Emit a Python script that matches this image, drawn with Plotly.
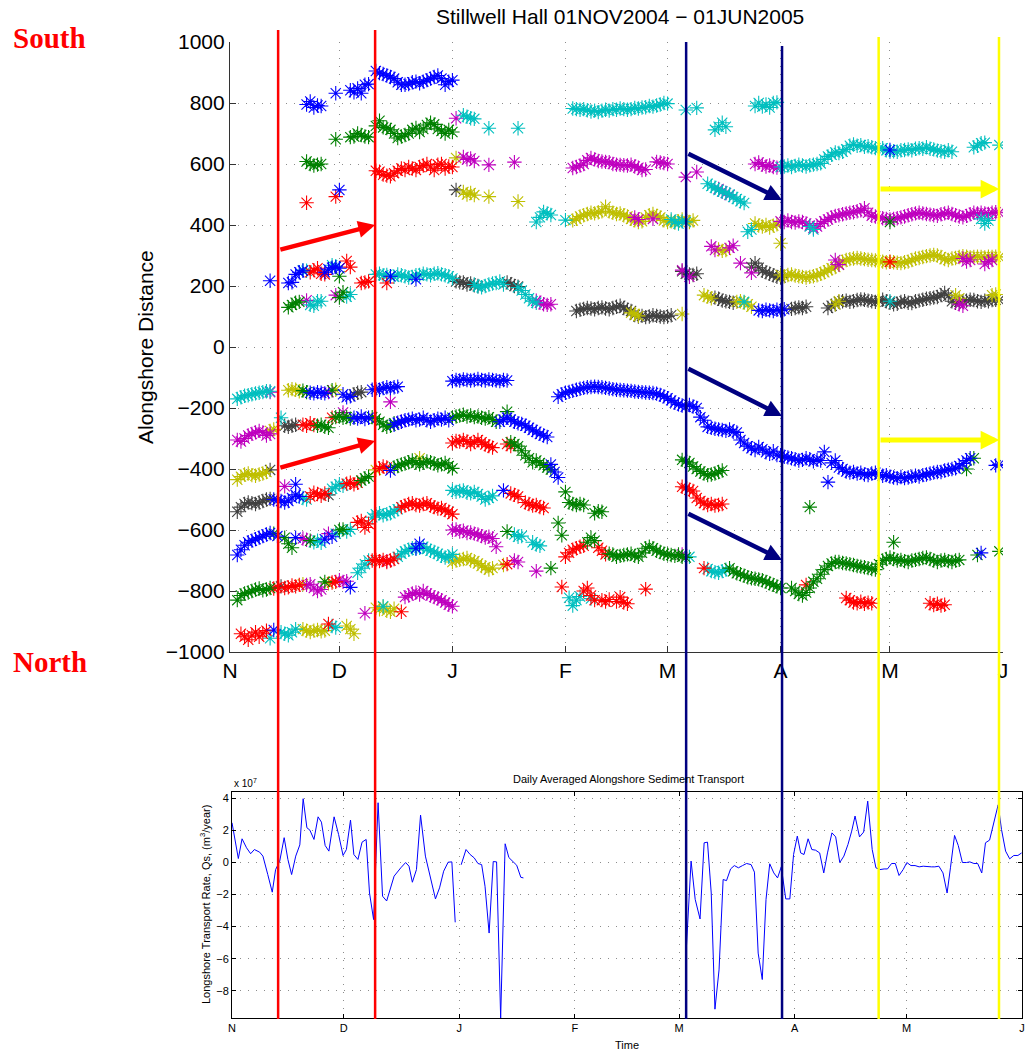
import plotly.graph_objects as go

# ---------------- data (x = days since 01 Nov 2004, y = alongshore distance) -------------
MONTH_DAYS = [0, 30, 61, 92, 120, 151, 181, 212]
MONTH_LABELS = ["N", "D", "J", "F", "M", "A", "M", "J"]

BLUE = [
    (21, [795, 805, 785, 792, 790]), (29, [832]), (33, [842, 835, 848, 832, 860, 862]),
    (40, [905, 898, 895, 890, 885, 880, 868, 860, 860, 862, 868, 870, 865, 870, 875, 880, 885, 890, 880, 860, 870, 875]),
    (30, [515]), (11, [217]), (16, [210, 212, 238, 245, 250]), (26, [245, 255, 260, 262, 258]),
    (44, [232]), (51, [222]), (181, [646]), (145, [120, 118, 122, 120, 118, 122, 120, 124]),
    (22, [-150, -152, -148, -150, -152]), (31, [-155, -165, -162]),
    (39, [-140, -138, -140, -135, -132, -135, -132, -130]),
    (34, [-232, -235, -228, -236, -232]),
    (45, [-255, -248, -245, -240, -238, -235, -240, -238, -232, -240, -245, -240, -235, -238, -232, -240]),
    (18, [-450]), (12, [-500, -502, -505, -510, -505, -495]), (18, [-485, -490]), (44, [-405]),
    (2, [-682, -665, -650, -640, -635, -630, -625, -620, -615, -610]),
    (13, [-620]), (18, [-625]), (26, [-630]), (28, [-622]), (33, [-788]), (51, [-660]), (52, [-645]),
    (12, [-928]),
    (61, [-112, -108, -110, -106, -108, -110, -108, -105, -108, -110, -106, -108, -110, -112, -108, -110]),
    (74, [-245, -238, -232, -238, -245, -250, -252, -258, -265, -272, -278, -285, -290, -295]),
    (88, [-385, -410, -428]), (75, [-470]),
    (90, [-163, -155, -150, -147, -144, -140, -137, -134, -132, -131, -130, -131, -132, -134, -136, -138,
          -140, -141, -142, -143, -144, -146, -147, -148, -149, -150, -151, -153, -157, -162, -168, -175,
          -183, -188, -192, -196, -190, -195, -200, -230, -240]),
    (131, [-262, -265, -268, -270, -272, -275, -270, -278, -280, -305, -315, -325, -332, -338, -328, -335,
           -345, -350, -342, -354, -355, -360, -362, -365, -368, -372, -370, -365, -368, -375, -370, -372, -344]),
    (164, [-443]),
    (165, [-380, -372, -395, -400, -408, -412, -410, -415, -412, -418, -420, -415, -412, -418, -422, -420,
           -425, -428, -430, -426, -430, -428, -425, -422, -425, -420, -418, -415, -412, -410, -410, -405,
           -402, -400, -398, -390, -382, -372, -365]),
    (210, [-388, -385]), (206, [-675]),
]

GREEN = [
    (21, [608, 600, 595, 598, 600]), (29, [681]), (33, [688, 690, 700, 695, 690, 688]),
    (40, [725, 742, 720, 718, 712, 700, 685, 690, 695, 700, 712, 718, 705, 715, 728, 735, 730, 715, 708, 700, 712, 705]),
    (30, [232]), (16, [130, 138, 145, 148]), (30, [162, 180]), (181, [410]),
    (20, [-143, -148]), (28, [-142]), (24, [-258, -255, -262, -265]), (29, [-230, -228, -232, -230, -235]),
    (39, [-230, -235, -245, -255, -262, -258, -250]), (36, [-438, -430, -425]),
    (45, [-395, -390, -385, -382, -378, -372, -380, -385, -380, -375, -378, -382, -388, -385, -380, -390, -398]),
    (12, [-612]), (15, [-625, -645, -658]), (22, [-635]), (30, [-600, -598]),
    (2, [-830, -815, -808, -805, -800, -795, -792, -798, -795, -790]), (26, [-770]),
    (61, [-232, -228, -225, -222, -228, -225, -230, -228, -232, -235, -230, -238, -245]), (76, [-212]),
    (77, [-312, -318, -325, -340, -355, -365, -378, -372, -380, -388, -395, -402]),
    (92, [-475]), (93, [-510, -515, -518, -515, -518]), (100, [-545, -538, -540]), (76, [-605]),
    (88, [-725]), (90, [-577]), (91, [-617]), (98, [-640, -625, -635]),
    (104, [-678, -680, -688, -685, -682, -680, -678, -685, -688, -675, -660, -655, -660, -668, -672, -678,
           -680, -682, -685, -680, -688, -690]),
    (124, [-370, -375, -380, -392, -400, -408, -415, -420, -418, -415, -410, -405]), (159, [-525]),
    (137, [-725, -735, -742, -745, -750, -755, -758, -760, -762, -765, -770, -775, -780, -785, -790]),
    (154, [-790, -800, -810, -815, -805, -790, -770, -760, -745, -730, -718, -710, -705]),
    (167, [-705, -708, -710, -712, -715, -718, -720, -722, -725, -728, -730]),
    (178, [-712, -700, -695, -690, -695, -700, -698, -702, -705, -700, -698, -695, -692, -690, -695, -700,
           -705, -700, -698, -702, -705, -700, -698]),
    (182, [-640]), (205, [-682]), (211, [-670]), (202, [-400]), (204, [-365]),
]

RED = [
    (21, [473]), (29, [493]),
    (40, [578, 575, 565, 562, 560, 570, 578, 585, 580, 590, 585, 580, 590, 595, 600, 590, 580, 598, 600, 585, 592, 590]),
    (22, [245, 252, 258, 240, 238]), (32, [282, 262]), (36, [210, 212, 215]), (43, [210]), (181, [279]),
    (20, [-255, -258, -250, -256]), (28, [-232]), (22, [-490, -478, -482, -488, -480]),
    (32, [-448, -445, -450, -445]), (41, [-398, -392, -395]), (35, [-575, -570, -592, -580]),
    (47, [-525, -520, -515, -512, -518, -520, -515, -512, -520, -525, -530, -528, -535, -540, -548]),
    (12, [-792, -788]), (15, [-790, -788, -782, -785, -780]), (28, [-772, -770]),
    (39, [-700, -698, -702, -698, -705, -700, -695]),
    (3, [-940, -950, -960, -945, -935, -950, -940, -930]), (27, [-908]), (47, [-868]),
    (61, [-315, -308, -310, -305, -310, -318, -312, -305, -312, -320, -325, -330]), (76, [-318, -325]),
    (77, [-480, -485, -490]), (81, [-510, -515, -520, -518, -525, -528]), (76, [-712]),
    (92, [-688, -675, -665, -660, -655, -652]), (101, [-658, -668, -680]),
    (91, [-787]), (97, [-800, -790, -815, -830]), (102, [-830, -835, -828]), (106, [-835, -820, -838, -842]),
    (114, [-794]),
    (124, [-458, -462, -468, -472, -495, -505, -512, -518, -515, -520, -518, -515]), (130, [-725]),
    (158, [-780]), (169, [-823, -830, -838, -840, -835, -842, -838, -840]), (192, [-840, -846, -842, -848, -845]),
]

CYAN = [
    (20, [252, 250]), (28, [268, 265]), (22, [138, 135, 150, 150]), (32, [165, 172]),
    (40, [238, 240, 235, 236, 232, 230, 238, 235, 232, 228, 230, 235, 236, 240, 238, 235, 240, 242, 238, 235, 232, 225]),
    (64, [760, 755, 750, 748]), (71, [717]), (79, [717]), (84, [410, 425, 443, 438, 433]), (92, [416]),
    (94, [782, 780, 778, 780, 776, 772, 775, 770, 775, 778, 775, 780, 778, 782, 780, 778, 780, 784, 782, 785,
          786, 790, 788, 792, 795, 800, 798]),
    (125, [777]), (128, [784]), (121, [418, 410, 405, 412, 410]),
    (67, [205, 198, 196, 200, 205, 208, 210, 215, 205]), (79, [195, 185, 172, 160, 150, 145]),
    (133, [712, 722, 735, 722]), (144, [790, 800, 788, 795, 785, 800, 802]),
    (131, [535, 528, 522, 515, 510, 505, 500, 492, 485, 478, 472]),
    (151, [590, 592, 595, 590, 594, 598, 595, 592, 596, 598, 600, 602, 615, 625, 630, 638, 636, 640, 648, 660,
           664, 660, 662, 656, 658, 655, 652, 650, 652, 645, 640, 642, 640, 645, 646, 648, 645, 650, 652, 650,
           655, 650, 648, 644, 642, 640, 645, 640]),
    (204, [655, 660, 668, 670]), (211, [662]), (142, [378, 385]), (159, [395, 385]), (206, [420, 405, 415]),
    (141, [148]), (181, [150]),
    (2, [-170, -165, -160, -158, -155, -152, -150, -148, -145, -145]), (14, [-232]), (20, [-495, -500]),
    (28, [-465, -458, -450, -455]), (23, [-640, -635, -642]), (29, [-612]), (32, [-605, -598]),
    (39, [-558, -548, -545, -552, -548, -545, -538, -532]), (35, [-740, -725, -712, -700]),
    (46, [-688, -678, -670, -665, -660, -662, -658, -655, -662, -668, -672, -678, -685, -690, -688, -680]),
    (11, [-955]), (14, [-935, -940, -945, -935, -925]), (28, [-915, -920]), (42, [-850]),
    (61, [-470, -475, -472, -470, -478, -480, -475, -482, -490, -500, -495, -488]),
    (78, [-615, -622, -620]), (83, [-640, -648, -652]), (93, [-822, -848, -830, -818]), (99, [-825]),
    (126, [-688]), (131, [-728, -735, -738, -740, -735, -730]),
]

MAGENTA = [
    (21, [153]), (29, [170]), (62, [750]), (64, [623, 615, 618, 610]), (71, [597]), (78, [606]),
    (84, [152, 145, 140, 138, 140]),
    (94, [587, 590, 595, 600, 612, 620, 615, 610, 608, 607, 606, 600, 598, 597, 596, 595, 598, 592, 588, 580, 582]),
    (117, [607, 605, 603, 600]), (125, [557]), (128, [574]), (111, [425, 418]), (116, [420]),
    (124, [252]), (126, [230]), (134, [518, 510, 505, 498]), (144, [600, 605, 598, 592, 595, 590, 588]),
    (151, [412, 410, 415, 410, 408, 412, 410, 405, 398, 390, 395, 405, 412, 418, 425, 430, 432, 435, 438, 440,
           442, 445, 448, 455, 440, 430, 428, 425, 422, 420, 418, 420, 422, 425, 428, 432, 435, 438, 440, 438,
           436, 434, 432, 430, 435, 438, 440, 436, 432, 428, 425, 430, 435, 440, 438, 440, 438, 436, 440, 442, 440]),
    (132, [330, 318]), (137, [325, 332]), (140, [275]), (143, [243]),
    (166, [285, 270]), (201, [290, 280, 285]), (207, [272, 280, 285]), (200, [140, 135]),
    (11, [-148]), (27, [-148]), (44, [-180]),
    (2, [-305, -310, -300, -290, -285, -280, -275, -280, -290, -285]), (31, [-215]), (47, [-245]),
    (15, [-457]), (20, [-628, -632]), (27, [-612]),
    (21, [-780, -778, -790, -800, -795]), (30, [-765, -770, -768]), (43, [-702]), (37, [-873]),
    (48, [-820, -815, -808, -805, -812, -800, -808, -815, -820, -825, -830, -838, -845, -850]),
    (61, [-600, -598, -605, -602, -610, -608, -612, -615, -620, -625, -622, -628]), (73, [-655]),
    (78, [-700, -705]), (84, [-735]), (124, [-680]),
]

YELLOW = [
    (62, [620]), (64, [508, 500, 505, 498]), (71, [493]), (79, [477]),
    (94, [415, 420, 428, 432, 436, 440, 438, 442, 445, 460, 445, 440, 436, 438, 432, 428, 420, 415, 410, 412,
          425, 432, 436, 430, 425, 415, 410, 412, 408, 412, 418, 415, 410, 415]),
    (110, [112, 108, 102]), (124, [108]), (144, [405, 398, 395, 400, 392, 398, 402]), (151, [340]),
    (134, [320, 315, 318]),
    (151, [236, 232, 236, 238, 234, 232, 230, 228, 230, 232, 235, 240, 245, 252, 258, 262, 270, 280, 285, 288,
           290, 292, 290, 288, 286, 285, 284, 282, 280, 278, 280, 278, 276, 275, 278, 280, 285, 290, 292, 295,
           298, 300, 302, 300, 295, 288, 285, 290, 292, 295, 298, 296, 294, 295, 296, 295, 294, 296, 295, 296, 295]),
    (130, [170, 165, 160]), (139, [148, 150, 145]), (142, [140, 132]),
    (166, [140, 150]), (199, [170, 160]), (209, [170, 172]),
    (16, [-142, -138, -140, -145]), (29, [-140]), (11, [-275, -270]),
    (2, [-435, -425, -418, -415, -420, -422, -418, -415, -410]), (40, [-403]), (52, [-365]),
    (20, [-778]), (27, [-775]), (20, [-925, -930, -935, -930, -928, -932, -930]), (32, [-915, -925, -940]),
    (40, [-855, -860, -852, -865, -868, -858]),
    (61, [-705, -700, -698, -695, -692, -700, -702, -710, -718, -722, -730, -725]), (75, [-715]),
]

GREY = [
    (62, [515]), (62, [215, 212, 212, 205, 208, 202, 200]), (76, [212, 206, 200, 198]),
    (95, [118, 122, 125, 128, 126, 124, 128, 130, 126, 124, 128, 132, 135, 128, 122, 118]),
    (111, [105, 100, 102, 98, 100, 104, 102, 100, 98, 100, 104]),
    (124, [248, 240, 238, 236, 240]), (143, [262, 275, 260, 250, 245, 240, 235, 230, 228]),
    (133, [162, 158, 152, 150, 148, 145]), (154, [125, 128, 130, 128, 132]),
    (164, [128, 135, 140, 148, 150, 152, 148, 150, 154, 156, 155, 152, 150, 148, 152, 155, 150, 145, 140, 142,
           148, 150, 145, 144, 150, 152, 155, 158, 160, 162, 164, 170, 177, 168, 150, 145, 148, 150, 152, 155,
           154, 150, 148, 152, 150, 154, 155, 154]),
    (34, [-155, -150, -148]), (15, [-258, -262, -258, -255]), (11, [-403]),
    (2, [-540, -525, -515, -510, -512, -515, -510, -505, -500, -498]), (27, [-485]), (14, [-785]),
]

# lower panel: daily averaged longshore transport (units of 1e7 m^3/year)
QS_DAY = [0, 1.7, 2.7, 3.9, 5, 6, 7.4, 8.3, 9.6, 10.8, 11.7, 12.8, 14, 15, 16, 17.1, 18.2, 19.1, 20.1, 20.9,
          22, 23.1, 24, 25, 26, 27.4, 28.6, 29.8, 30.7, 31.8, 32.7, 33.8, 34.9, 36, 36.9, 38, 39.2, 40.4, 41.5,
          42.6, 43.5, 45.3, 46.6, 47.5, 48.4, 49.5, 50.6, 51.9, 53.3, 54.6, 55.7, 56.8, 58, 59, 59.9, None,
          61.5, 62.8, 63.9, 65, 66, 67, 67.9, 69, 70.1, 71, 72.1, 73.3, 74.3, 76.4, 77.5, 78.2, None,
          121.8, 123.2, 124.3, 125.6, 126.7, 127.6, 128.6, 129.6, 130.7, 131.8, 132.7, 133.8, 134.8, 135.9,
          137, 138.1, 139.3, 140.2, 141.2, 142.3, 143.3, 144.3, 145.4, 146.4, 147.4, 148.6, 149.7, 150.7,
          151.7, 152.6, 153.5, 154.6, 155.6, 156.6, 157.7, 158.8, 159.8, 161, 162, 163.1, 164.2, 165.3, 166.3,
          167.2, 168.4, 169.5, 170.6, 171.8, 172.8, 173.9, 175, 175.9, 177, 178, 179, 180.1, 181.1, 182.2,
          183.3, 184.4, 185.5, 186.6, 187.7, 188.6, 189.7, 190.8, 191.9, 192.8, 193.9, 194.9, 196, 197.1, 198,
          199.1, 200.1, 201.2, 202.2, 203.3, 204.4, 205.6, 206.5, 207.6, 208.7, 209.8, 210.9, 211.9]
QS_VAL = [2.48, 0.25, 1.48, 0.92, 0.55, 0.81, 0.65, 0.40, -0.75, -1.85, -0.44, 0.08, 1.55, 0.19, -0.75, 0.40,
          1.10, 3.98, 2.17, 2.02, 1.44, 2.85, 2.52, 1.06, 0.71, 2.85, 1.75, 0.44, 0.81, 2.65, 0.50, 0.19, 1.27,
          1.44, -1.90, -3.56, 3.73, -2.10, -2.40, -1.58, -0.85, -0.33, 0.0, -0.23, -1.23, -0.44, 2.96, 0.40,
          -1.06, -2.27, -1.58, -0.54, 0.02, 0.04, -3.73, None,
          -0.14, 0.81, 0.50, 0.29, -0.06, -0.13, -1.48, -4.40, 0.06, 0.04, -9.70, 1.17, 0.31, -0.17, -0.92,
          -0.96, None,
          -5.9, 0.09, -2.30, -3.52, 1.23, 1.27, -1.90, -9.15, -6.70, -1.06, -1.13, -0.40, -0.19, -0.33, -0.19,
          -0.06, -0.13, -0.60, -5.65, -7.30, -2.31, -0.08, -0.65, -0.96, -0.27, -2.27, -2.27, 0.50, 1.65, 0.60,
          0.50, 1.48, 0.81, 0.77, 0.60, -0.65, 0.60, 1.85, 1.60, 0.0, 0.40, 1.13, 1.96, 2.90, 1.60, 1.90, 3.83,
          0.81, -0.33, -0.44, -0.40, -0.40, -0.06, -0.06, -0.81, -0.44, 0.0, -0.19, -0.19, -0.27, -0.23, -0.27,
          -0.27, -0.27, -0.23, -0.65, -1.90, -0.33, 1.69, 1.06, 0.0, 0.0, 0.04, -0.06, -0.06, -0.65, 1.23, 1.40,
          2.48, 3.60, 2.06, 0.71, 0.23, 0.44, 0.44, 0.60]

# event markers (days on the upper time axis) and arrows (tail day, tail y, tip day, tip y)
RED_LINES = [13.2, 39.8]
NAVY_LINES = [125.1, 151.4]
YELLOW_LINES = [177.9, 210.9]
RED_ARROWS = [(13.4, 318, 39.8, 400), (13.4, -397, 39.8, -308)]
NAVY_ARROWS = [(125.3, 636, 151.4, 482), (125.3, -69, 151.4, -226), (125.3, -544, 151.4, -698)]
YELLOW_ARROWS = [(178.0, 518, 211.0, 518), (178.0, -305, 211.0, -305)]

COLORS = {
    "grey": "#404040", "yellow": "#BFBF00", "magenta": "#BF00BF", "cyan": "#00BFBF",
    "red": "#FF0000", "green": "#008000", "blue": "#0000FF",
}
SERIES = [("grey", GREY), ("yellow", YELLOW), ("magenta", MAGENTA), ("cyan", CYAN),
          ("red", RED), ("green", GREEN), ("blue", BLUE)]

W, H = 1029, 1051
FONT = "Liberation Sans, Arial, Helvetica, sans-serif"


def build(segs):
    xs, ys = [], []
    for start, vals in segs:
        xs += [start + i for i in range(len(vals))] + [None]
        ys += list(vals) + [None]
    return xs, ys


fig = go.Figure()
for name, segs in SERIES:
    xs, ys = build(segs)
    fig.add_trace(go.Scatter(
        x=xs, y=ys, mode="lines+markers", xaxis="x", yaxis="y",
        line=dict(color=COLORS[name], width=0.8),
        marker=dict(symbol="asterisk-open", size=12, line=dict(color=COLORS[name], width=1.1)),
        hoverinfo="skip", showlegend=False))

fig.add_trace(go.Scatter(x=QS_DAY, y=QS_VAL, mode="lines", xaxis="x2", yaxis="y2",
                         line=dict(color="#0000FF", width=1), showlegend=False, hoverinfo="skip"))

grid = dict(showgrid=True, gridcolor="#8c8c8c", gridwidth=1, griddash="1px,7px", zeroline=False)

fig.update_layout(
    width=W, height=H, margin=dict(l=0, r=0, t=0, b=0),
    paper_bgcolor="white", plot_bgcolor="white", showlegend=False,
    xaxis=dict(domain=[230 / W, 1003 / W], range=[0, 212], anchor="y",
               tickmode="array", tickvals=MONTH_DAYS, ticktext=MONTH_LABELS,
               ticks="inside", ticklen=6, tickcolor="#333333", showline=True, linecolor="#333333", linewidth=1.2,
               tickfont=dict(family=FONT, size=21, color="black"), automargin=False, **grid),
    yaxis=dict(domain=[1 - 652 / H, 1 - 42 / H], range=[-1000, 1000], anchor="x",
               tickmode="array", tickvals=list(range(-1000, 1001, 200)),
               ticks="inside", ticklen=6, tickcolor="#333333", showline=True, linecolor="#333333", linewidth=1.2,
               tickfont=dict(family=FONT, size=21, color="black"), automargin=False, **grid),
    xaxis2=dict(domain=[232 / W, 1022 / W], range=[0, 212], anchor="y2",
                tickmode="array", tickvals=MONTH_DAYS, ticktext=MONTH_LABELS,
                ticks="inside", ticklen=4, tickcolor="black", showline=True, linecolor="black", linewidth=1,
                mirror="ticks", tickfont=dict(family=FONT, size=11, color="black"), automargin=False, **grid),
    yaxis2=dict(domain=[1 - 1018 / H, 1 - 792 / H], range=[-9.7, 4.4], anchor="x2",
                tickmode="array", tickvals=[-8, -6, -4, -2, 0, 2, 4],
                ticks="inside", ticklen=4, tickcolor="black", showline=True, linecolor="black", linewidth=1,
                mirror="ticks", tickfont=dict(family=FONT, size=11, color="black"), automargin=False, **grid),
)

shapes = []
for xs, col, top in [(RED_LINES, "#FF0000", [30, 30]), (NAVY_LINES, "#000080", [42, 46]),
                     (YELLOW_LINES, "#FFFF00", [37, 37])]:
    for xv, t in zip(xs, top):
        shapes.append(dict(type="line", xref="x", yref="paper", x0=xv, x1=xv,
                           y0=1 - 1019 / H, y1=1 - t / H, line=dict(color=col, width=2.5), layer="above"))
fig.update_layout(shapes=shapes)

ann = []
for arrows, col, w, s in [(RED_ARROWS, "#FF0000", 4.5, 0.75), (NAVY_ARROWS, "#000080", 4.5, 0.75),
                          (YELLOW_ARROWS, "#FFFF00", 5, 0.75)]:
    for x0, y0, x1, y1 in arrows:
        ann.append(dict(x=x1, y=y1, ax=x0, ay=y0, xref="x", yref="y", axref="x", ayref="y",
                        text="", showarrow=True, arrowhead=2, arrowsize=s, arrowwidth=w, arrowcolor=col,
                        standoff=0))

ann += [
    dict(text="Stillwell Hall 01NOV2004 \u2212 01JUN2005", x=620 / W, y=1 - 17 / H, xref="paper", yref="paper",
         showarrow=False, font=dict(family=FONT, size=21, color="black"), xanchor="center", yanchor="middle"),
    dict(text="Alongshore Distance", x=145 / W, y=1 - 347 / H, xref="paper", yref="paper", textangle=-90,
         showarrow=False, font=dict(family=FONT, size=21, color="black"), xanchor="center", yanchor="middle"),
    dict(text="<b>South</b>", x=49 / W, y=1 - 38 / H, xref="paper", yref="paper", showarrow=False,
         font=dict(family="Liberation Serif, Times New Roman, serif", size=29, color="#FF0000"),
         xanchor="center", yanchor="middle"),
    dict(text="<b>North</b>", x=50 / W, y=1 - 662 / H, xref="paper", yref="paper", showarrow=False,
         font=dict(family="Liberation Serif, Times New Roman, serif", size=29, color="#FF0000"),
         xanchor="center", yanchor="middle"),
    dict(text="Daily Averaged Alongshore Sediment Transport", x=628 / W, y=1 - 779 / H, xref="paper",
         yref="paper", showarrow=False, font=dict(family=FONT, size=11, color="black"),
         xanchor="center", yanchor="middle"),
    dict(text="x 10<sup>7</sup>", x=232 / W, y=1 - 783 / H, xref="paper", yref="paper", showarrow=False,
         font=dict(family=FONT, size=10, color="black"), xanchor="left", yanchor="middle"),
    dict(text="Longshore Transport Rate, Qs, (m<sup>3</sup>/year)", x=205 / W, y=1 - 905 / H, xref="paper",
         yref="paper", textangle=-90, showarrow=False, font=dict(family=FONT, size=11, color="black"),
         xanchor="center", yanchor="middle"),
    dict(text="Time", x=627 / W, y=1 - 1045 / H, xref="paper", yref="paper", showarrow=False,
         font=dict(family=FONT, size=11, color="black"), xanchor="center", yanchor="middle"),
]
fig.update_layout(annotations=ann)

fig.write_html("out.html")
